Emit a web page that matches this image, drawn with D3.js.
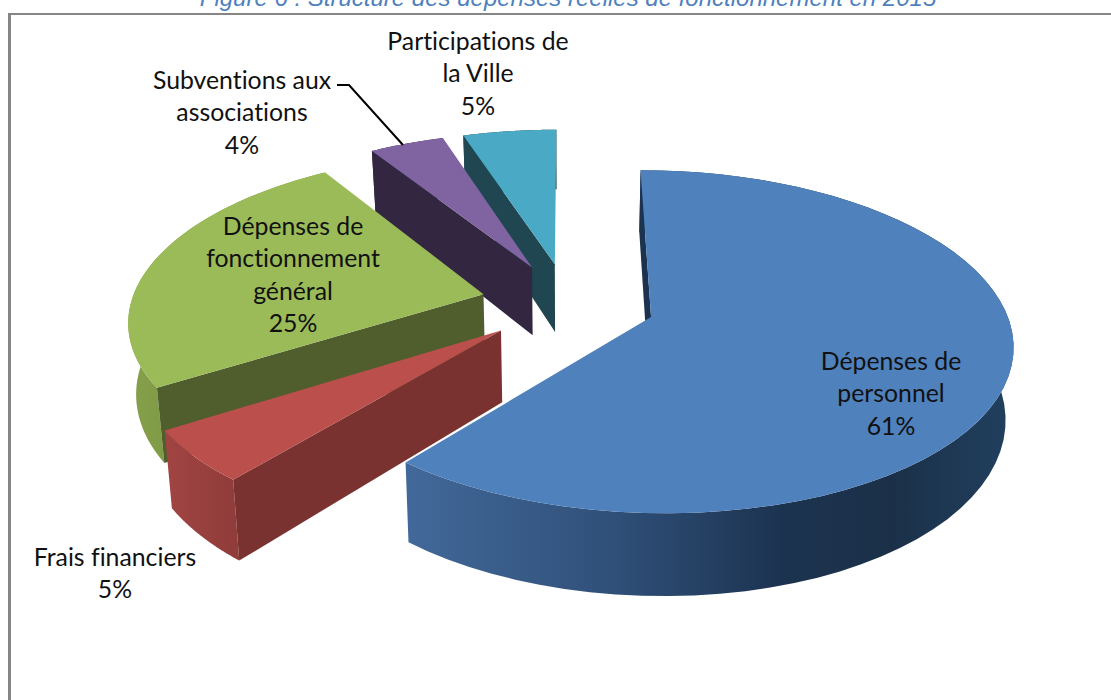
<!DOCTYPE html>
<html><head><meta charset="utf-8"><style>html,body{margin:0;background:#fff;overflow:hidden}svg{display:block}</style>
<script src="https://cdn.jsdelivr.net/npm/d3@7"></script></head><body><svg id="c" width="1111" height="700"></svg>
<script>
const categories=["Dépenses de personnel","Frais financiers","Dépenses de fonctionnement général","Subventions aux associations","Participations de la Ville"];
const values=[61,5,25,4,5];
const labelLines=[["Dépenses de","personnel","61%"],["Frais financiers","5%"],["Dépenses de","fonctionnement","général","25%"],["Subventions aux","associations","4%"],["Participations de","la Ville","5%"]];
const topColors=["#4f81bd","#bb4f4c","#9bbb59","#8064a2","#4aa9c4"];
const cutColors=["#1c3350","#7a3230","#4f5e2c","#322640","#1f4651"];
const wallStops=[[["0","#42699a"],["0.35","#2f4f78"],["0.62","#1c3350"],["0.8","#1b3048"],["1","#21405f"]],[["0","#a04442"],["1","#8f3c3a"]],[["0","#86a04a"],["1","#7f9a46"]],[["0","#322640"],["1","#322640"]],[["0","#1f4651"],["1","#1f4651"]]];
const labelAnchors=[[891,370],[115,566],[293,235],[242,89],[478,50]];
const title="Figure 6 : Structure des dépenses réelles de fonctionnement en 2015";

const Cx=568,Cy=303,R=352.5,A=164,F=7,H=70,Q=0.982,EX=0.2475;
const svg=d3.select("#c");
const pie=d3.pie().value(d=>d).sort(null).startAngle(0).endAngle(2*Math.PI);
const arcs=pie(values);
function proj(X,Z,bottom){
  const p=F/(F+Z);
  let x=Cx+X*R*p, y=Cy-Z*A*p;
  if(bottom){x=Cx+(x-Cx)*Q;y+=H*p;}
  return [x,y];
}
const line=d3.line();
const defs=svg.append("defs");
const gradRange=[[405,1013],[168,240],[128,170],[360,530],[460,560]];
wallStops.forEach((s,i)=>{
  const g=defs.append("linearGradient").attr("id","w"+i).attr("gradientUnits","userSpaceOnUse")
   .attr("x1",gradRange[i][0]).attr("x2",gradRange[i][1]).attr("y1",0).attr("y2",0);
  s.forEach(st=>g.append("stop").attr("offset",st[0]).attr("stop-color",st[1]));
});
// title and frame
svg.append("text").attr("x",568).attr("y",6).attr("text-anchor","middle").attr("font-family","Liberation Sans").attr("font-style","italic").attr("font-size",24).attr("fill","#4f81bd").text(title);
svg.append("rect").attr("x",8).attr("y",13).attr("width",1103).attr("height",2).attr("fill","#868686");
svg.append("rect").attr("x",8).attr("y",13).attr("width",3).attr("height",687).attr("fill","#868686");
// draw back to front
[4,3,2,1,0].forEach(i=>{
  const a=arcs[i],mid=(a.startAngle+a.endAngle)/2;
  const ox=EX*Math.sin(mid),oz=EX*Math.cos(mid);
  const pt=(t,b)=>proj(ox+Math.sin(t),oz+Math.cos(t),b);
  const apex=b=>proj(ox,oz,b);
  const angles=d3.range(0,61).map(k=>a.startAngle+(a.endAngle-a.startAngle)*k/60);
  const g=svg.append("g").attr("class","slice");
  g.append("path").attr("d",line(angles.map(t=>pt(t,false)).concat(angles.slice().reverse().map(t=>pt(t,true))))+"Z").attr("fill","url(#w"+i+")");
  g.append("path").attr("d",line([apex(false),pt(a.startAngle,false),pt(a.startAngle,true),apex(true)])+"Z").attr("fill",cutColors[i]);
  g.append("path").attr("d",line([apex(false)].concat(angles.map(t=>pt(t,false))))+"Z").attr("fill",topColors[i]);
});
// leader line
svg.append("path").attr("d","M337,85H349L403,145").attr("fill","none").attr("stroke","#000").attr("stroke-width",2);
// labels
labelLines.forEach((ls,i)=>{
  const t=svg.append("text").attr("text-anchor","middle").attr("font-family","Lato").attr("font-size",24.8).attr("fill","#111").style("font-variant-ligatures","none");
  ls.forEach((l,k)=>t.append("tspan").attr("x",labelAnchors[i][0]).attr("y",labelAnchors[i][1]+k*32.4).text(l));
});
</script></body></html>
